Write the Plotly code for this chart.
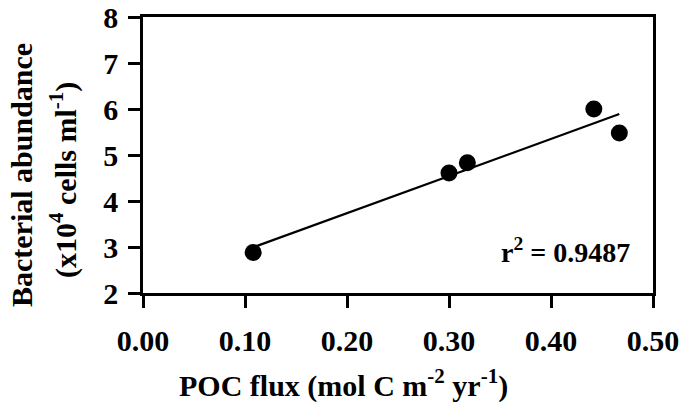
import numpy as np
import plotly.graph_objects as go

poc_flux = [0.108, 0.300, 0.318, 0.442, 0.467]
bact_abund = [2.88, 4.61, 4.83, 6.00, 5.48]
x_ticks = [0.0, 0.1, 0.2, 0.3, 0.4, 0.5]
x_ticklabels = ["0.00", "0.10", "0.20", "0.30", "0.40", "0.50"]
y_ticks = [2, 3, 4, 5, 6, 7, 8]
r2_text = "r<sup>2</sup> = 0.9487"

slope, intercept = np.polyfit(poc_flux, bact_abund, 1)
fit_x = [min(poc_flux), max(poc_flux)]
fit_y = [slope * v + intercept for v in fit_x]

FONT = "Liberation Serif"
TICK = dict(family=FONT, size=30, color="black", weight="bold")
TITLE = dict(family=FONT, size=30, color="black", weight="bold")

fig = go.Figure()
fig.add_trace(go.Scatter(x=fit_x, y=fit_y, mode="lines",
                         line=dict(color="black", width=2.2), showlegend=False))
fig.add_trace(go.Scatter(x=poc_flux, y=bact_abund, mode="markers",
                         marker=dict(color="black", size=17), showlegend=False))

W, H = 684, 402
L, R, T, B = 143, 653, 17, 293
pw, ph = R - L, B - T

def px(x):
    return (x - L) / pw

def py(y):
    return (B - y) / ph

fig.update_layout(
    width=W, height=H,
    margin=dict(l=L, r=W - R, t=T, b=H - B),
    plot_bgcolor="white", paper_bgcolor="white",
    font=dict(family=FONT, size=30, color="black", weight="bold"),
    xaxis=dict(range=[0, 0.5], tickvals=x_ticks, ticktext=x_ticklabels,
               showline=True, mirror=True, linecolor="black", linewidth=2.5,
               ticks="outside", ticklen=12, tickwidth=2.5, tickcolor="black",
               showgrid=False, zeroline=False, ticklabelstandoff=7,
               automargin=False, tickfont=TICK),
    yaxis=dict(range=[2, 8], tickvals=y_ticks,
               showline=True, mirror=True, linecolor="black", linewidth=2.5,
               ticks="outside", ticklen=12, tickwidth=2.5, tickcolor="black",
               showgrid=False, zeroline=False, ticklabelstandoff=4,
               automargin=False, tickfont=TICK),
    annotations=[
        dict(text="POC flux (mol C m<sup>-2</sup> yr<sup>-1</sup>)", xref="paper", yref="paper",
             x=px(343), y=py(383), xanchor="center", yanchor="middle", showarrow=False,
             font=TITLE),
        dict(text="Bacterial abundance", xref="paper", yref="paper",
             x=px(21), y=py(175), xanchor="center", yanchor="middle", showarrow=False,
             textangle=-90, font=TITLE),
        dict(text="(x10<sup>4</sup> cells ml<sup>-1</sup>)", xref="paper", yref="paper",
             x=px(63), y=py(180), xanchor="center", yanchor="middle", showarrow=False,
             textangle=-90, font=TITLE),
        dict(text=r2_text, xref="paper", yref="paper",
             x=px(565), y=py(250), xanchor="center", yanchor="middle", showarrow=False,
             font=dict(family=FONT, size=28, color="black", weight="bold")),
    ],
)

fig.write_html("out.html", config={"displayModeBar": False},
               post_script="document.body.style.margin='0';")
